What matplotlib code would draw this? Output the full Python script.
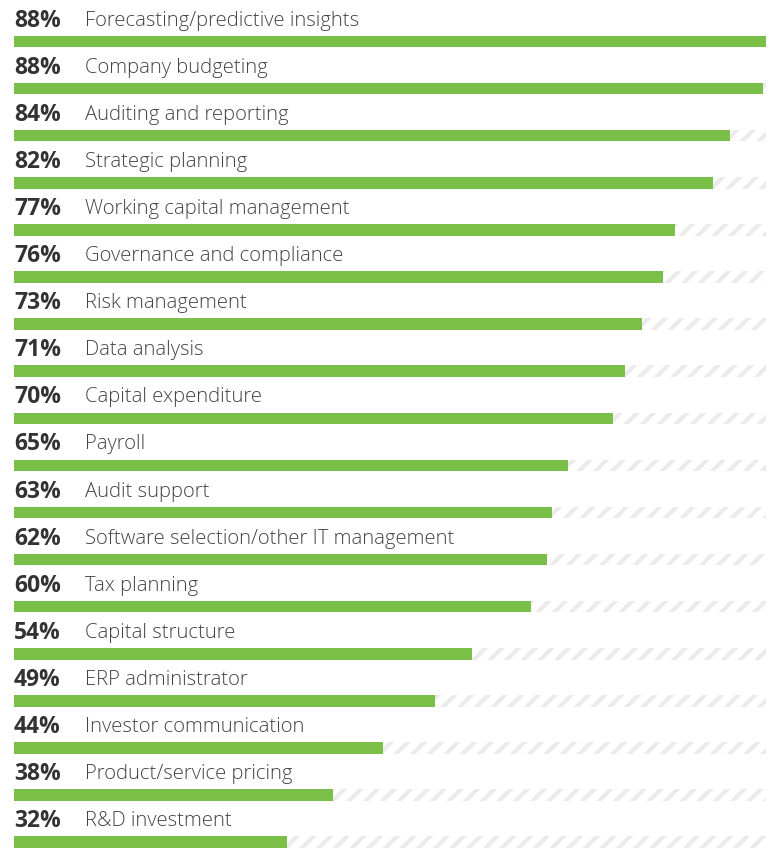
import matplotlib.pyplot as plt

categories = ["Forecasting/predictive insights", "Company budgeting", "Auditing and reporting",
              "Strategic planning", "Working capital management", "Governance and compliance",
              "Risk management", "Data analysis", "Capital expenditure", "Payroll", "Audit support",
              "Software selection/other IT management", "Tax planning", "Capital structure",
              "ERP administrator", "Investor communication", "Product/service pricing",
              "R&D investment"]
pct_labels = ["88%", "88%", "84%", "82%", "77%", "76%", "73%", "71%", "70%", "65%", "63%",
              "62%", "60%", "54%", "49%", "44%", "38%", "32%"]
# bar lengths as drawn in the picture (slightly off the rounded labels)
values = [88.0, 87.7, 83.8, 81.8, 77.3, 75.9, 73.5, 71.5, 70.1, 64.8, 63.0, 62.4, 60.5,
          53.6, 49.3, 43.2, 37.3, 31.9]
x_max = 88.0

plt.rcParams['hatch.linewidth'] = 3.0
plt.rcParams['hatch.color'] = '#ebebeb'

fig = plt.figure(figsize=(7.71, 8.51), dpi=100)
ax = fig.add_axes([14 / 771, 0, 752 / 771, 1])

row_px = 47.1
top = -41.5 / row_px
bottom = (851 - 41.5) / row_px
bar_h = 11.5 / row_px
text_off = 21.0 / row_px

for i, (cat, lab, v) in enumerate(zip(categories, pct_labels, values)):
    ax.barh(i, x_max - v, left=v, height=bar_h, color='white', edgecolor='#ebebeb',
            hatch='//', linewidth=0)
    ax.barh(i, v, height=bar_h, color='#79bf48', linewidth=0)
    ax.text(0, i - text_off, lab, ha='left', va='center', fontsize=16.5,
            fontweight='bold', color='#333333', family='Open Sans')
    ax.text(8.3, i - text_off, cat, ha='left', va='center', fontsize=14.6,
            color='#444444', family='Open Sans', fontweight=300)

ax.set_xlim(0, x_max)
ax.set_ylim(bottom, top)
ax.axis('off')

fig.savefig('out.png', dpi=100)
